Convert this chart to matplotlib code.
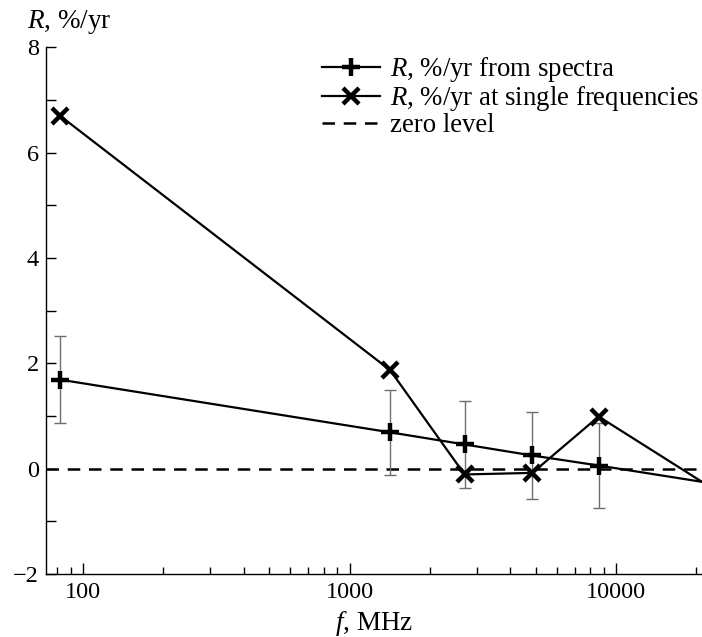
import matplotlib
matplotlib.use("Agg")
import matplotlib.pyplot as plt
from matplotlib.ticker import FixedLocator, NullFormatter

plt.rcParams['font.family'] = ['Liberation Serif', 'DejaVu Serif']
plt.rcParams['mathtext.fontset'] = 'custom'
plt.rcParams['mathtext.rm'] = 'Liberation Serif'
plt.rcParams['mathtext.it'] = 'Liberation Serif:italic'

# frequencies, MHz
freq = [82, 1420, 2700, 4850, 8600, 21000]
# R from spectra and its error
r_spec = [1.69, 0.69, 0.46, 0.25, 0.06, -0.25]
r_spec_err = [0.82, 0.81, 0.82, 0.82, 0.80, 0.0]
# R at single frequencies
r_single = [6.70, 1.87, -0.11, -0.08, 0.99, -0.25]

x_ticks = [100, 1000, 10000]
x_tick_labels = ['100', '1000', '10000']
y_ticks = [-2, 0, 2, 4, 6, 8]

fig = plt.figure(figsize=(7.02, 6.37), dpi=100)
ax = fig.add_axes([0.0655, 0.0989, 0.9345, 0.8268])
ax.set_xscale('log')

ax.axhline(0, color='black', lw=1.8, ls=(0, (5, 3.5)), label='zero level', zorder=1)

n = len(freq) - 1
ax.errorbar(freq[:n], r_spec[:n], yerr=r_spec_err[:n], fmt='none', ecolor='#6e6e6e',
            elinewidth=1.0, capsize=4, capthick=1.0, zorder=2)
ax.plot(freq, r_spec, color='black', lw=1.6, marker='+', ms=13, mew=3.2,
        markevery=list(range(n)), label=r'$R$, %/yr from spectra', zorder=3)
ax.plot(freq, r_single, color='black', lw=1.6, marker='x', ms=12, mew=3.2,
        markevery=list(range(n)), label=r'$R$, %/yr at single frequencies', zorder=3)

ax.set_xlim(72.6, 21000)
ax.set_ylim(-2, 8)

ax.xaxis.set_major_locator(FixedLocator(x_ticks))
ax.set_xticklabels(x_tick_labels)
ax.xaxis.set_minor_formatter(NullFormatter())
ax.set_yticks(y_ticks)
ax.set_yticklabels(['\u22122', '0', '2', '4', '6', '8'])
ax.yaxis.set_minor_locator(FixedLocator([-1, 1, 3, 5, 7]))

ax.tick_params(axis='both', which='both', direction='in', labelsize=17.5, width=1.0)
ax.tick_params(axis='x', which='major', length=8, pad=6)
ax.tick_params(axis='x', which='minor', length=5)
ax.tick_params(axis='y', which='both', length=7, pad=5)
for s in ['top', 'right']:
    ax.spines[s].set_visible(False)
for s in ['left', 'bottom']:
    ax.spines[s].set_linewidth(1.0)

fig.text(0.039, 0.988, r'$R$, %/yr', fontsize=19.5, ha='left', va='top')
ax.set_xlabel(r'$f$, MHz', fontsize=19.5, labelpad=4)

h, l = ax.get_legend_handles_labels()
order = [1, 2, 0]
leg = ax.legend([h[i] for i in order], [l[i] for i in order], loc='upper left',
                bbox_to_anchor=(0.42, 0.985), frameon=False, fontsize=19.3,
                handlelength=2.2, handletextpad=0.37, labelspacing=0.0,
                borderaxespad=0, borderpad=0)

fig.savefig('out.png', dpi=100)
